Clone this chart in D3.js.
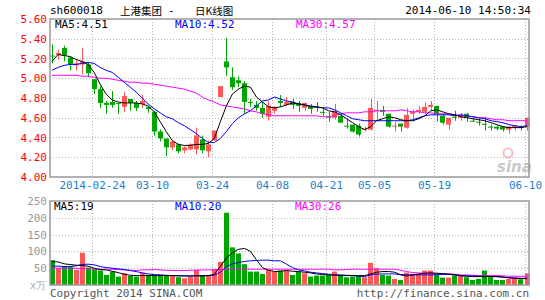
<!DOCTYPE html>
<html>
<head>
<meta charset="utf-8">
<script src="https://cdn.jsdelivr.net/npm/d3@7"></script>
<style>
  body { margin: 0; background: #fff; }
  text { font-family: "DejaVu Sans Mono", "Liberation Mono", monospace; font-size: 10px; }
  .cn { font-family: "Noto Sans CJK SC", sans-serif; font-size: 10.5px; }
</style>
</head>
<body>
<svg id="chart" width="545" height="300"></svg>
<script>
// trading days shown
const dates = [
  "2014-02-13","2014-02-14","2014-02-17","2014-02-18","2014-02-19","2014-02-20","2014-02-21",
  "2014-02-24","2014-02-25","2014-02-26","2014-02-27","2014-02-28",
  "2014-03-03","2014-03-04","2014-03-05","2014-03-06","2014-03-07",
  "2014-03-10","2014-03-11","2014-03-12","2014-03-13","2014-03-14",
  "2014-03-17","2014-03-18","2014-03-19","2014-03-20","2014-03-21",
  "2014-03-24","2014-03-25","2014-03-26","2014-03-27","2014-03-28",
  "2014-03-31","2014-04-01","2014-04-02","2014-04-03","2014-04-04",
  "2014-04-08","2014-04-09","2014-04-10","2014-04-11",
  "2014-04-14","2014-04-15","2014-04-16","2014-04-17","2014-04-18",
  "2014-04-21","2014-04-22","2014-04-23","2014-04-24","2014-04-25",
  "2014-04-28","2014-04-29","2014-04-30",
  "2014-05-05","2014-05-06","2014-05-07","2014-05-08","2014-05-09",
  "2014-05-12","2014-05-13","2014-05-14","2014-05-15","2014-05-16",
  "2014-05-19","2014-05-20","2014-05-21","2014-05-22","2014-05-23",
  "2014-05-26","2014-05-27","2014-05-28","2014-05-29","2014-05-30",
  "2014-06-03","2014-06-04","2014-06-05","2014-06-06",
  "2014-06-09","2014-06-10"
];

const open = [5.23,5.236,5.306,5.21,5.13,5.14,5.14,4.99,4.89,4.75,
  4.76,4.75,4.71,4.79,4.75,4.74,4.71,4.66,4.46,4.39,
  4.30,4.33,4.27,4.28,4.28,4.38,4.26,4.37,4.81,5.17,
  5.01,4.98,4.95,4.76,4.73,4.70,4.61,4.67,4.77,4.73,
  4.76,4.75,4.70,4.71,4.71,4.66,4.61,4.60,4.62,4.52,
  4.53,4.52,4.48,4.48,4.67,4.68,4.64,4.51,4.54,4.50,
  4.64,4.66,4.66,4.71,4.72,4.62,4.53,4.61,4.60,4.64,
  4.57,4.56,4.54,4.51,4.51,4.51,4.48,4.50,4.51,4.51];
const high = [5.34,5.29,5.33,5.22,5.18,5.31,5.16,4.99,4.92,4.77,
  4.87,4.75,4.86,4.79,4.77,4.83,4.71,4.67,4.48,4.39,
  4.36,4.34,4.31,4.34,4.50,4.42,4.37,4.47,4.92,5.41,
  5.11,5.02,4.97,4.79,4.77,4.76,4.77,4.72,4.83,4.81,
  4.79,4.77,4.75,4.74,4.76,4.69,4.66,4.74,4.65,4.59,
  4.53,4.54,4.51,4.79,4.77,4.72,4.64,4.56,4.54,4.70,
  4.68,4.72,4.76,4.77,4.72,4.64,4.60,4.67,4.65,4.65,
  4.60,4.59,4.61,4.53,4.52,4.51,4.51,4.52,4.52,4.60];
const low = [5.15,5.19,5.17,5.08,5.08,5.04,5.01,4.84,4.70,4.64,
  4.70,4.64,4.66,4.67,4.67,4.70,4.65,4.42,4.36,4.21,
  4.27,4.24,4.24,4.27,4.23,4.24,4.20,4.37,4.81,5.02,
  4.88,4.91,4.64,4.71,4.67,4.60,4.57,4.64,4.71,4.72,
  4.69,4.66,4.67,4.64,4.66,4.62,4.56,4.58,4.55,4.49,
  4.45,4.41,4.46,4.47,4.57,4.62,4.50,4.46,4.46,4.49,
  4.56,4.64,4.64,4.67,4.56,4.53,4.48,4.57,4.57,4.56,
  4.56,4.52,4.47,4.47,4.47,4.46,4.44,4.47,4.47,4.47];
const close = [5.23,5.256,5.233,5.14,5.15,5.17,5.05,4.89,4.75,4.73,
  4.73,4.74,4.82,4.75,4.70,4.77,4.69,4.46,4.39,4.30,
  4.36,4.26,4.30,4.33,4.42,4.27,4.33,4.47,4.92,5.11,
  4.91,4.95,4.76,4.76,4.70,4.64,4.72,4.71,4.75,4.76,
  4.73,4.72,4.75,4.69,4.70,4.66,4.61,4.67,4.55,4.52,
  4.46,4.43,4.49,4.70,4.68,4.66,4.51,4.52,4.51,4.63,
  4.66,4.68,4.71,4.73,4.64,4.55,4.60,4.61,4.63,4.60,
  4.57,4.56,4.54,4.51,4.49,4.48,4.51,4.52,4.51,4.60];

// volume, unit 万手
const volume = [74,50,56,56,45,96,52,47,43,30,
  40,25,35,27,25,37,30,30,30,28,
  27,23,20,25,45,30,30,47,69,215,
  112,94,62,40,40,33,45,40,43,43,
  30,40,35,25,28,28,30,40,30,23,
  25,27,23,66,50,30,28,18,15,37,
  33,33,43,43,30,22,22,28,27,23,
  15,18,43,23,15,15,18,18,17,35];

// moving averages
const ma5 = [5.17,5.24,5.23,5.22,5.19,5.17,5.14,5.06,4.94,4.84,
  4.78,4.76,4.75,4.75,4.75,4.74,4.72,4.66,4.56,4.46,
  4.37,4.33,4.32,4.32,4.33,4.33,4.34,4.39,4.56,4.72,
  4.84,4.89,4.92,4.91,4.81,4.76,4.71,4.70,4.71,4.73,
  4.75,4.74,4.73,4.71,4.71,4.70,4.67,4.66,4.63,4.59,
  4.55,4.51,4.48,4.51,4.57,4.59,4.61,4.60,4.58,4.57,
  4.57,4.59,4.62,4.67,4.68,4.66,4.64,4.63,4.61,4.60,
  4.59,4.58,4.57,4.55,4.53,4.51,4.50,4.50,4.50,4.51];
const ma10 = [5.08,5.11,5.13,5.14,5.14,5.15,5.16,5.15,5.11,5.08,
  5.06,5.01,4.96,4.91,4.86,4.80,4.74,4.69,4.65,4.61,
  4.59,4.55,4.52,4.48,4.44,4.39,4.35,4.35,4.39,4.46,
  4.54,4.60,4.64,4.67,4.72,4.77,4.78,4.81,4.79,4.77,
  4.76,4.74,4.73,4.72,4.71,4.70,4.70,4.68,4.65,4.62,
  4.59,4.58,4.57,4.57,4.57,4.57,4.57,4.57,4.57,4.57,
  4.58,4.60,4.62,4.63,4.63,4.63,4.63,4.62,4.63,4.62,
  4.61,4.60,4.59,4.57,4.56,4.55,4.53,4.52,4.51,4.52];
const ma30 = [5.03,5.03,5.03,5.03,5.03,5.02,5.02,5.01,5.00,5.00,
  4.99,4.98,4.97,4.96,4.96,4.95,4.95,4.94,4.93,4.92,
  4.91,4.90,4.89,4.87,4.85,4.81,4.78,4.76,4.73,4.72,
  4.71,4.70,4.69,4.67,4.66,4.64,4.63,4.62,4.62,4.62,
  4.62,4.62,4.62,4.62,4.62,4.61,4.61,4.62,4.64,4.65,
  4.65,4.65,4.66,4.66,4.67,4.67,4.67,4.67,4.68,4.67,
  4.66,4.66,4.65,4.65,4.64,4.64,4.64,4.63,4.62,4.62,
  4.61,4.60,4.60,4.59,4.58,4.58,4.57,4.57,4.57,4.57];

const vma5 = [69,69,63,61,59,58,56,50,46,45,
  41,37,32,29,28,28,28,28,28,28,
  28,27,27,27,27,27,28,32,55,80,
  96,106,109,100,75,52,44,40,41,43,
  41,40,38,36,33,31,30,29,28,28,
  28,28,28,33,38,40,40,38,30,27,
  30,33,35,36,35,34,32,30,28,26,
  25,25,25,25,25,24,21,20,19,19];
const vma10 = [56,56,55,55,57,61,62,60,55,52,
  50,48,46,43,40,36,33,31,30,29,
  28,28,27,27,28,28,28,29,38,55,
  63,67,70,72,73,74,74,72,72,62,
  52,45,42,38,36,34,32,31,30,29,
  28,26,25,30,32,33,33,33,31,30,
  30,30,30,30,31,31,32,30,27,27,
  27,26,26,25,25,23,22,21,20,20];
const vma30 = [50,50,50,50,50,49,48,47,47,47,
  47,46,45,44,43,45,45,46,45,44,
  43,43,43,44,44,45,45,45,46,46,
  47,47,47,47,47,47,47,47,47,47,
  47,47,47,47,47,47,47,45,45,46,
  47,47,47,47,47,47,47,47,44,40,
  37,36,35,35,34,33,33,32,30,30,
  29,28,28,28,28,27,26,26,26,26];

// axis ticks
const priceTicks = [4.0,4.2,4.4,4.6,4.8,5.0,5.2,5.4,5.6];
const volTicks = [50,100,150,200,250];
const dateTicks = ["2014-02-24","2014-03-10","2014-03-24","2014-04-08","2014-04-21","2014-05-05","2014-05-19","2014-06-10"];

const RED = "#ff5757", GREEN = "#00a600";
const svg = d3.select("#chart");

const x = d3.scaleBand().domain(dates).range([49.5, 529.5]).paddingInner(0.17);
const cx = d => x(d) + x.bandwidth() / 2;
const y = d3.scaleLinear().domain([4.0, 5.6]).range([177, 19]);
const yv = d3.scaleLinear().domain([0, 250]).range([285, 201]);

// header
svg.append("text").attr("x", 50).attr("y", 14).style("font-size", "11px").text("sh600018");
svg.append("text").attr("class", "cn").attr("x", 120).attr("y", 15).text("上港集团");
svg.append("text").attr("x", 168).attr("y", 14).style("font-size", "11px").text("-");
svg.append("text").attr("class", "cn").attr("x", 195).attr("y", 15).text("日K线图");
svg.append("text").attr("x", 531).attr("y", 14).attr("text-anchor", "end").style("font-size", "11px")
  .text("2014-06-10 14:50:34");

// grid helper
function grid(scale, ticks, top, bottom) {
  const g = svg.append("g").attr("stroke", "#b4b4b4").attr("stroke-dasharray", "1,2");
  g.selectAll(".h").data(ticks).join("line")
    .attr("x1", 50).attr("x2", 529)
    .attr("y1", d => Math.round(scale(d)) + 0.5).attr("y2", d => Math.round(scale(d)) + 0.5);
  g.selectAll(".v").data(dateTicks).join("line")
    .attr("x1", d => Math.round(x(d)) + 0.5).attr("x2", d => Math.round(x(d)) + 0.5)
    .attr("y1", top).attr("y2", bottom);
}
grid(y, priceTicks.slice(1, -1), 19, 177);
grid(yv, volTicks.slice(0, -1), 201, 285);

// y axes
const yAxis = svg.append("g").attr("transform", "translate(47,0)")
  .call(d3.axisLeft(y).tickValues(priceTicks).tickFormat(d3.format(".2f")).tickSize(0).tickPadding(0));
yAxis.select(".domain").remove();
yAxis.selectAll("text").attr("fill", "#f00").style("font-size", "11px").style("font-family", "DejaVu Sans Mono");

const vAxis = svg.append("g").attr("transform", "translate(47,0)")
  .call(d3.axisLeft(yv).tickValues(volTicks).tickSize(0).tickPadding(0));
vAxis.select(".domain").remove();
vAxis.selectAll("text").attr("fill", "#999").style("font-size", "11px").style("font-family", "DejaVu Sans Mono");
svg.append("text").attr("x", 46).attr("y", 289).attr("text-anchor", "end").attr("fill", "#aaa")
  .style("font-size", "10px").text("x万");

// date axis
const xAxis = svg.append("g").attr("transform", "translate(0,181)")
  .call(d3.axisBottom(x).tickValues(dateTicks).tickSize(0).tickPadding(0)
    .tickFormat(d => d === dateTicks[0] ? d : d.slice(5)));
xAxis.select(".domain").remove();
xAxis.selectAll(".tick").attr("transform", d => `translate(${Math.round(x(d)) + 0.5},0)`);
xAxis.selectAll("text").attr("fill", "#1b7fcc").style("font-size", "11px").style("font-family", "DejaVu Sans Mono");

// candles
const idx = d3.range(dates.length);
const col = i => close[i] > open[i] ? RED : GREEN;
const candles = svg.append("g");
candles.selectAll("line").data(idx).join("line")
  .attr("x1", i => Math.round(cx(dates[i])) + 0.5).attr("x2", i => Math.round(cx(dates[i])) + 0.5)
  .attr("y1", i => y(high[i])).attr("y2", i => y(low[i]))
  .attr("stroke", col);
candles.selectAll("rect").data(idx).join("rect")
  .attr("x", i => Math.round(x(dates[i])))
  .attr("width", 5)
  .attr("y", i => y(Math.max(open[i], close[i])))
  .attr("height", i => Math.max(1, Math.abs(y(open[i]) - y(close[i]))))
  .attr("fill", col);

// volume bars
svg.append("g").selectAll("rect").data(idx).join("rect")
  .attr("x", i => Math.round(x(dates[i])))
  .attr("width", 5)
  .attr("y", i => yv(volume[i]))
  .attr("height", i => yv(0) - yv(volume[i]))
  .attr("fill", col);

// moving average lines
function maLine(values, scale, color) {
  const line = d3.line().x((d, i) => cx(dates[i])).y(d => scale(d));
  svg.append("path").datum(values).attr("d", line)
    .attr("fill", "none").attr("stroke", color).attr("stroke-width", 1);
}
maLine(ma30, y, "#ff00ff");
maLine(ma10, y, "#0000ff");
maLine(ma5, y, "#000");
maLine(vma30, yv, "#ff00ff");
maLine(vma10, yv, "#0000ff");
maLine(vma5, yv, "#000");

// sina watermark
const wm = svg.append("g").attr("opacity", 0.45);
wm.append("circle").attr("cx", 508).attr("cy", 153).attr("r", 4.5).attr("fill", "none").attr("stroke", "#e77").attr("stroke-width", 2);
wm.append("text").attr("x", 497).attr("y", 172).attr("fill", "#888")
  .style("font-family", "DejaVu Sans").style("font-size", "15px").style("font-weight", "bold").style("font-style", "italic")
  .text("sina");

// panel borders
svg.append("rect").attr("x", 50).attr("y", 19).attr("width", 479).attr("height", 158)
  .attr("fill", "none").attr("stroke", "#999").attr("stroke-width", 1.5);
svg.append("rect").attr("x", 50).attr("y", 201).attr("width", 479).attr("height", 84)
  .attr("fill", "none").attr("stroke", "#999").attr("stroke-width", 1.5);

// MA legends
const legend = (txt, xx, yy, color) => svg.append("text").attr("x", xx).attr("y", yy).attr("fill", color)
  .style("font-size", "11px").text(txt);
legend("MA5:" + ma5[79].toFixed(2), 55, 28, "#000");
legend("MA10:" + ma10[79].toFixed(2), 175, 28, "#0000ff");
legend("MA30:" + ma30[79].toFixed(2), 296, 28, "#ff00ff");
legend("MA5:" + vma5[79], 54, 210, "#000");
legend("MA10:" + vma10[79], 175, 210, "#0000ff");
legend("MA30:" + vma30[79], 295, 210, "#ff00ff");

// footer
svg.append("text").attr("x", 50).attr("y", 297).attr("fill", "#555").style("font-size", "11px")
  .text("Copyright 2014 SINA.COM");
svg.append("text").attr("x", 529).attr("y", 297).attr("text-anchor", "end").attr("fill", "#555").style("font-size", "11px")
  .text("http://finance.sina.com.cn");
</script>
</body>
</html>
